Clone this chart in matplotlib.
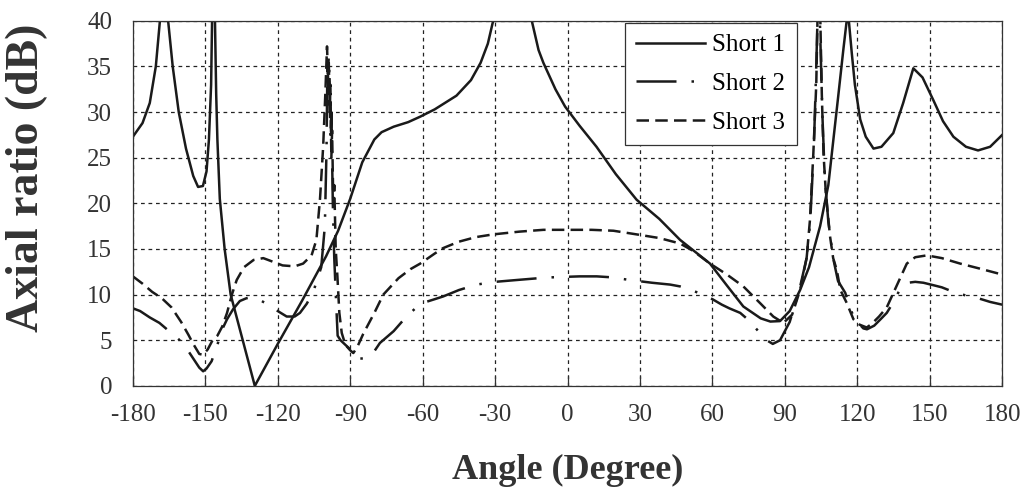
import matplotlib
matplotlib.use("Agg")
import matplotlib.pyplot as plt

# Short 1 (solid)
s1_angle = [-180, -176, -173, -170.5, -168.8, -165.4, -163.5, -161, -158, -155, -153, -151,
            -149.5, -148.5, -147.6, -147.2, -146, -145.5, -145, -144, -142, -139.5, -135,
            -129.5, -120, -110, -100, -95, -90, -85, -80, -77, -72, -66, -61, -55, -46, -40,
            -36, -33, -30.8, -14.8, -12, -10, -5, -1, 5, 12, 20, 28.6, 38, 46.6, 59, 66,
            72.8, 80, 84, 88, 92, 96.3, 100, 104.6, 108, 110.1, 112, 114.2, 115.6, 116.5,
            117.7, 119, 121.2, 123.5, 126.7, 130, 134.9, 139, 143.2, 147, 151.5, 155.5,
            159.8, 165, 170, 175, 180]
s1_ar = [27.3, 28.8, 31, 35, 40, 40, 35, 30, 26, 23, 21.8, 21.9,
         23.5, 27, 33, 40, 40, 32, 27, 20.5, 15, 10, 5.5,
         0, 4.6, 9.3, 14.2, 17, 20.5, 24.5, 27, 27.8, 28.4, 28.9, 29.5, 30.3, 31.8, 33.5,
         35.4, 37.5, 40, 40, 36.8, 35.4, 32.5, 30.6, 28.5, 26.2, 23.2, 20.4, 18.3, 16, 13.4, 11,
         8.7, 7.4, 7.05, 7.1, 8.2, 10.5, 13, 17.5, 22, 27, 31.5, 36.8, 40, 40,
         36.5, 33, 29.2, 27.3, 26.0, 26.2, 27.7, 31, 34.8, 33.8, 31.3, 29,
         27.3, 26.2, 25.8, 26.2, 27.5]

# Short 2 (dash-dot)
s2_angle = [-180, -177, -173, -169, -165, -161, -158, -155, -152.5, -150.9, -149.5, -147.4,
            -145, -143, -141, -138.5, -135.7, -133, -131, -128, -124, -120, -116.3, -113,
            -110.8, -108, -105.3, -102, -100.5, -99.8, -99.4, -99, -98.6, -98.2, -97.8,
            -97.2, -96.6, -95.8, -95.2, -94, -92, -90, -88, -86, -84, -82.5, -80, -77.7,
            -72, -66.7, -63, -59.8, -55, -51.5, -45, -37.7, -30, -21.1, -12, -6, 5, 12.1,
            18, 25.9, 35, 42.5, 46.6, 50, 56.3, 60, 63.9, 67, 71.5, 75, 79, 82.5, 85, 88,
            92, 96, 99, 100.5, 102, 103, 103.5, 104.5, 105.5, 106.5, 108, 110, 112, 115,
            117, 119, 122.5, 124, 127, 130, 132.2, 135, 137.7, 141, 144, 147.4, 152, 155,
            159.8, 165, 170.1, 175, 180]
s2_ar = [8.5, 8.2, 7.5, 6.9, 6.0, 5.1, 4.2, 3.0, 2.0, 1.6, 1.9, 2.7,
         4.5, 6.2, 7.3, 8.4, 9.3, 9.6, 9.7, 9.5, 8.9, 8.2, 7.6, 7.6,
         8.0, 9.0, 10.3, 13, 17.5, 26, 36, 32, 35, 27, 30,
         20, 14, 9, 5.5, 5.0, 4.5, 4.0, 3.4, 3.0, 3.0, 3.2, 3.8, 4.7,
         6.0, 7.6, 8.5, 9.1, 9.5, 9.8, 10.5, 11.1, 11.4, 11.6, 11.8, 11.9, 12.0, 12.0,
         11.9, 11.6, 11.3, 11.1, 10.9, 10.6, 10.0, 9.5, 8.9, 8.5, 8.0, 7.2, 6.0, 5.0, 4.6, 5.0,
         7.0, 10.5, 14, 18, 26, 35, 40, 40, 30, 23, 18, 14, 11.5, 10.2,
         8.5, 7.3, 6.3, 6.2, 6.6, 7.4, 8.0, 9.2, 10.6, 11.3, 11.4, 11.3, 11.0, 10.8,
         10.3, 9.9, 9.6, 9.2, 8.9]

# Short 3 (dashed)
s3_angle = [-180, -176, -172, -168, -164, -160, -157, -155, -152.5, -150.9, -149, -147,
            -145, -143, -141, -139, -137, -134, -130, -126, -122, -118, -113, -109.5,
            -106, -104, -102.5, -101.2, -100.3, -99.6, -99.2, -98.9, -98.5, -98.2, -97.8,
            -97.5, -97, -96.6, -96, -95.3, -94.5, -93.5, -92, -90, -88.7, -87, -84.6, -80,
            -76.3, -70, -65, -61, -55, -51.5, -45, -38, -30.8, -20, -10, 0, 10, 19, 28.6,
            38, 46.6, 52, 59, 66, 72.8, 80, 85.2, 89.4, 93, 96.3, 99, 100.4, 101.8, 103,
            103.5, 104.7, 105.3, 106, 107, 108.7, 110, 111.5, 113, 115.6, 118.4, 121,
            123.9, 126, 129, 132.2, 136, 140.5, 144, 148.8, 155, 162.6, 170, 180]
s3_ar = [12.0, 11.2, 10.3, 9.6, 8.6, 7.0, 5.6, 4.6, 3.5, 3.4, 4.0, 5.0,
         5.5, 6.5, 8.0, 10.0, 11.6, 13.0, 13.8, 14.0, 13.6, 13.2, 13.1, 13.4,
         14.3, 16, 20.5, 26.2, 32, 37.2, 34, 36, 30, 33, 25,
         28, 20, 22, 15, 12, 8, 5.8, 4.5, 3.9, 3.6, 4.3, 5.7, 8.0,
         10, 11.8, 12.8, 13.4, 14.5, 15.1, 15.8, 16.3, 16.6, 16.9, 17.1, 17.1, 17.1, 17.0, 16.6,
         16.2, 15.6, 14.8, 13.4, 12.2, 10.9, 9.0, 7.6, 6.9, 7.8, 10.5, 14, 18.2, 25.5, 33,
         40, 40, 32, 25.5, 21, 16.4, 14, 12.7, 10.5, 9.1, 7.3, 6.7,
         6.4, 6.8, 7.6, 8.6, 10.8, 13.4, 14.1, 14.3, 14.0, 13.4, 12.9, 12.2]

x_ticks = [-180, -150, -120, -90, -60, -30, 0, 30, 60, 90, 120, 150, 180]
y_ticks = [0, 5, 10, 15, 20, 25, 30, 35, 40]

plt.rcParams["font.family"] = ["Liberation Serif", "DejaVu Serif"]
plt.rcParams["axes.unicode_minus"] = False

fig = plt.figure(figsize=(10.3, 4.96), dpi=100)
ax = fig.add_axes([0.129, 0.222, 0.844, 0.736])

lw = 1.8
ax.plot(s1_angle, s1_ar, color="#1a1a1a", lw=lw, label="Short 1")
ax.plot(s2_angle, s2_ar, color="#1a1a1a", lw=lw, linestyle=(0, (16, 6, 1, 6)), label="Short 2")
ax.plot(s3_angle, s3_ar, color="#1a1a1a", lw=lw, linestyle=(0, (5, 2.5)), label="Short 3")

ax.set_xlim(-180, 180)
ax.set_ylim(0, 40)
ax.set_xticks(x_ticks)
ax.set_yticks(y_ticks)
ax.grid(True, color="#222222", linestyle=(0, (3, 3)), linewidth=0.9)
ax.tick_params(axis="x", direction="in", length=7, width=0.9, pad=13, labelsize=18, colors="#333333")
ax.tick_params(axis="y", length=0, pad=15, labelsize=18, colors="#333333")
for sp in ax.spines.values():
    sp.set_linewidth(0.9)
    sp.set_color("#333333")

ax.set_xlabel("Angle (Degree)", fontsize=26, fontweight="bold", color="#333333", labelpad=20)
ax.set_ylabel("Axial ratio (dB)", fontsize=33, fontweight="bold", color="#333333")
ax.yaxis.set_label_coords(-0.097, 0.57)

leg = ax.legend(loc="upper left", bbox_to_anchor=(0.566, 0.995), fontsize=18,
                fancybox=False, framealpha=1, edgecolor="#333333", handlelength=2.75,
                handletextpad=0.3, labelspacing=0.65, borderaxespad=0, borderpad=0.45)
leg.get_frame().set_linewidth(0.9)

fig.savefig("out.png", dpi=100)
